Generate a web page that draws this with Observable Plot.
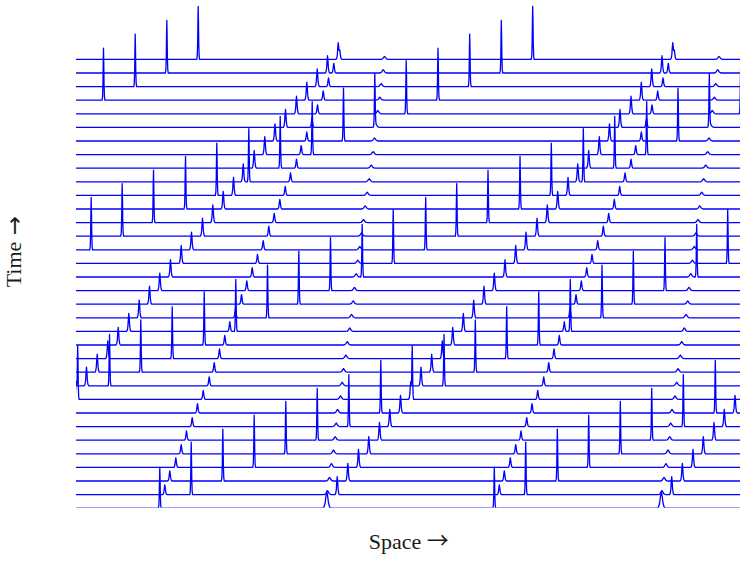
<!DOCTYPE html>
<html>
<head>
<meta charset="utf-8">
<script src="https://cdn.jsdelivr.net/npm/d3@7"></script>
<script src="https://cdn.jsdelivr.net/npm/@observablehq/plot@0.6"></script>
<style>
  html, body { margin: 0; padding: 0; background: #ffffff; }
  #chart svg { display: block; }
</style>
</head>
<body>
<div id="chart"></div>
<script>
// Time steps of the stacked profiles (bottom = first step)
const times = [0, 1, 2, 3, 4, 5, 6, 7, 8, 9, 10, 11, 12, 13, 14, 15, 16,
               17, 18, 19, 20, 21, 22, 23, 24, 25, 26, 27, 28, 29, 30, 31, 32, 33];

// Space is periodic with period 100; positions of each travelling peak per time step
const tallPos = [24.90, 34.29, 43.74, 53.12, 62.57, 71.96, 81.41, 90.97, 0.36, 9.87,
                 19.22, 28.61, 38.18, 47.62, 57.10, 66.46, 75.93, 85.41, 94.68, 4.39,
                 13.66, 23.02, 32.59, 41.94, 51.51, 60.90, 70.46, 79.82, 89.18, 98.57,
                 8.07, 17.55, 27.00, 36.38];
const tallAmp = [3.01, 3.85, 3.82, 3.85, 3.85, 3.80, 3.82, 3.87, 3.85, 3.77,
                 3.85, 3.82, 3.90, 3.82, 3.87, 3.90, 3.90, 3.87, 3.95, 3.85,
                 3.87, 3.85, 3.87, 3.85, 3.90, 3.80, 3.90, 3.88, 3.85, 3.90,
                 3.82, 3.85, 3.86, 3.90];

const midPos = [74.83, 77.94, 81.11, 84.30, 87.38, 90.58, 93.66, 96.86, 99.91, 2.99,
                6.19, 9.36, 12.47, 15.64, 18.74, 21.82, 24.90, 28.10, 31.30, 34.38,
                37.67, 40.75, 43.86, 46.94, 49.84, 53.12, 56.29, 59.34, 62.48, 65.77,
                68.85, 71.96, 75.04, 78.24];
const midAmp = [1.25, 1.32, 1.30, 1.32, 1.27, 1.30, 1.27, 1.30, 1.30, 1.37,
                1.32, 1.30, 1.30, 1.32, 1.30, 1.32, 1.29, 1.27, 1.32, 1.30,
                1.32, 1.30, 1.30, 1.32, 1.32, 1.30, 1.32, 1.26, 1.32, 1.29,
                1.32, 1.30, 1.27, 1.20];

const smallPos = [null, 26.40, 27.89, 29.69, 31.30, 32.88, 34.59, 36.17, 37.88, 39.67,
                  41.17, 42.75, 44.33, 45.83, 47.53, 49.33, 50.91, 52.53, 54.11, 55.81,
                  57.49, 59.10, 60.78, 62.39, 63.98, 65.77, 67.17, 68.85, 70.40, 72.05,
                  73.75, 75.34, 76.92, 78.71];
const smallAmp = [null, 0.71, 0.74, 0.71, 0.68, 0.68, 0.66, 0.69, 0.66, 0.66,
                  0.71, 0.71, 0.71, 0.71, 0.70, 0.71, 0.71, 0.68, 0.66, 0.68,
                  0.74, 0.68, 0.71, 0.66, 0.66, 0.66, 0.66, 0.66, 0.68, 0.66,
                  0.68, 0.64, 0.71, 0.62];

const ripplePos = [null, 75.04, 75.64, 76.23, 76.83, 77.34, 77.64, 78.03, 78.92, 79.43,
                   79.82, 80.51, 80.93, 81.70, 82.21, 82.72, 83.11, 83.62, 84.10, 84.69,
                   85.20, 85.80, 86.31, 86.91, 87.50, 88.10, 88.70, 89.09, 89.54, 90.07,
                   90.67, 91.09, 91.69, 92.08];
const rippleAmp = [null, 0.29, 0.27, 0.28, 0.28, 0.26, 0.26, 0.26, 0.26, 0.26,
                   0.27, 0.26, 0.25, 0.25, 0.25, 0.24, 0.24, 0.24, 0.23, 0.24,
                   0.24, 0.23, 0.23, 0.23, 0.23, 0.23, 0.22, 0.22, 0.22, 0.24,
                   0.22, 0.22, 0.24, 0.22];

// ---- drawing setup ----
const PERIOD = 100;
const X_END = 198.5;            // visible extent of the periodic domain
const trains = [
  {pos: tallPos,   amp: tallAmp,   width: 0.14, width0: 0.14},
  {pos: midPos,    amp: midAmp,    width: 0.22, width0: 0.42},
  {pos: smallPos,  amp: smallAmp,  width: 0.22, width0: 0.22},
  {pos: ripplePos, amp: rippleAmp, width: 0.40, width0: 0.40}
];
// sech^2-like peak outline, in units of the peak width
const shapeOff = [-3, -2, -1.2, -0.6, 0, 0.6, 1.2, 2, 3];
const shapeVal = [0, 0.07, 0.305, 0.712, 1, 0.712, 0.305, 0.07, 0];

function shapeAt(s) {
  if (s <= shapeOff[0] || s >= shapeOff[shapeOff.length - 1]) return 0;
  for (let i = 1; i < shapeOff.length; i++) {
    if (s <= shapeOff[i]) {
      const f = (s - shapeOff[i - 1]) / (shapeOff[i] - shapeOff[i - 1]);
      return shapeVal[i - 1] + f * (shapeVal[i] - shapeVal[i - 1]);
    }
  }
  return 0;
}

const points = [];
times.forEach((t, i) => {
  const peaks = [];
  for (const tr of trains) {
    if (tr.pos[i] == null) continue;
    const w = i === 0 ? tr.width0 : tr.width;   // the initial hump is broader
    for (const k of [-1, 0, 1]) {
      peaks.push({c: tr.pos[i] + k * PERIOD, h: tr.amp[i], w});
    }
  }
  const xs = new Set([0, X_END]);
  for (const p of peaks) {
    for (const o of shapeOff) {
      const x = p.c + o * p.w;
      if (x > -1 && x < X_END + 1) xs.add(x);
    }
  }
  [...xs].sort((a, b) => a - b).forEach(x => {
    let a = 0;
    for (const p of peaks) a += p.h * shapeAt((x - p.c) / p.w);
    points.push({t, x, y: t + a});
  });
});

const serif = "'Times New Roman', 'Liberation Serif', 'DejaVu Serif', serif";
const arrowFont = "'Noto Sans CJK JP', 'DejaVu Sans', sans-serif";
const arrowFontV = "'DejaVu Sans', sans-serif";
const ink = "#1a1a1a";

const chart = Plot.plot({
  width: 740,
  height: 566,
  marginLeft: 76,
  marginRight: 0,
  marginTop: 0,
  marginBottom: 58.3,
  x: {domain: [0, X_END], axis: null},
  y: {domain: [0, 37.33], axis: null},
  marks: [
    Plot.line(points, {x: "x", y: "y", z: "t", stroke: "#0000ff", strokeWidth: 1.3, clip: true}),
    // horizontal axis caption
    Plot.text(["Space"], {text: d => d, frameAnchor: "bottom", textAnchor: "start",
      dx: -39.7, dy: 41, fontSize: 22, fontFamily: serif, fill: ink}),
    Plot.text(["\u2192"], {text: d => d, frameAnchor: "bottom", textAnchor: "start",
      dx: 18.3, dy: 40, fontSize: 22, fontFamily: arrowFont, fill: ink}),
    // vertical axis caption, reading upward
    Plot.text(["Time"], {text: d => d, frameAnchor: "left", textAnchor: "start", rotate: -90,
      dx: -62.5, dy: 33, fontSize: 22, fontFamily: serif, fill: ink}),
    Plot.text(["\u2192"], {text: d => d, frameAnchor: "left", textAnchor: "start", rotate: -90,
      dx: -61.8, dy: -19, fontSize: 23, fontFamily: arrowFontV, fill: ink})
  ]
});
document.getElementById("chart").appendChild(chart);
</script>
</body>
</html>
